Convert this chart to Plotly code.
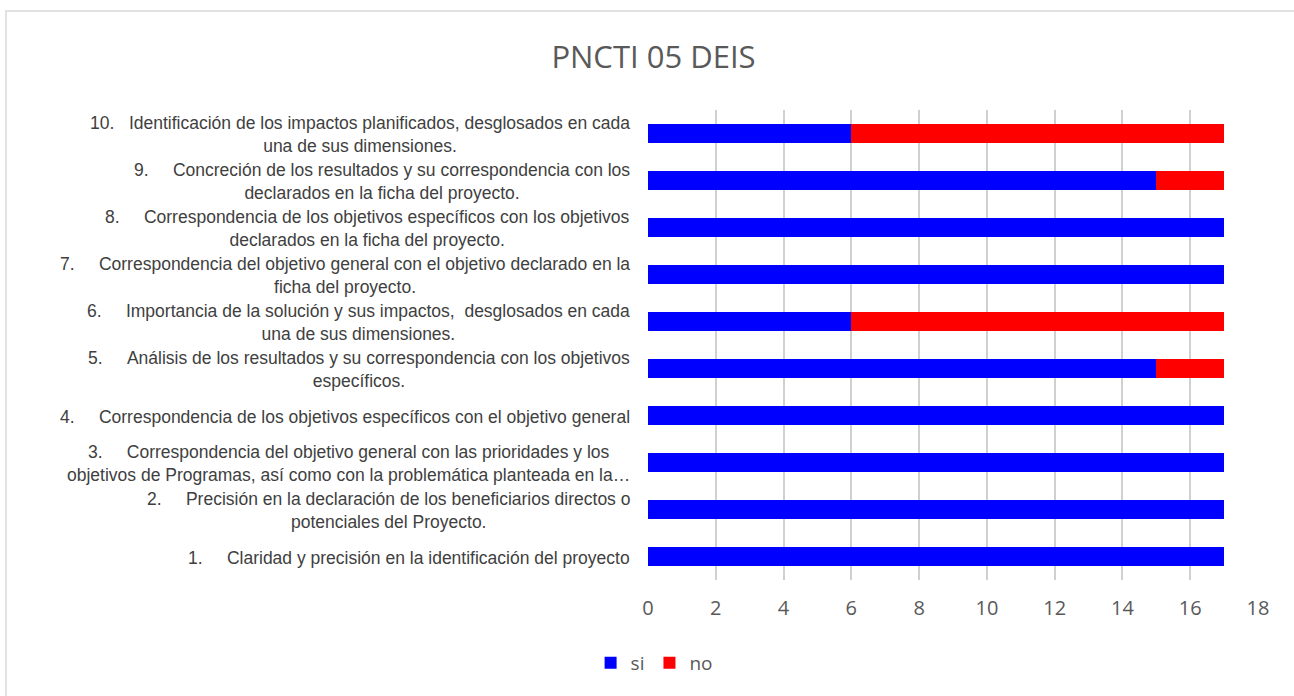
import plotly.graph_objects as go

NB = "\u00a0"

numbers = ["1.", "2.", "3.", "4.", "5.", "6.", "7.", "8.", "9.", "10."]
texts = [
    "Claridad y precisión en la identificación del proyecto",
    "Precisión en la declaración de los beneficiarios directos o<br>potenciales del Proyecto.",
    "Correspondencia del objetivo general con las prioridades y los<br>objetivos de Programas, así como con la problemática planteada en la…",
    "Correspondencia de los objetivos específicos con el objetivo general",
    "Análisis de los resultados y su correspondencia con los objetivos<br>específicos.",
    "Importancia de la solución y sus impactos,  desglosados en cada<br>una de sus dimensiones.",
    "Correspondencia del objetivo general con el objetivo declarado en la<br>ficha del proyecto.",
    "Correspondencia de los objetivos específicos con los objetivos<br>declarados en la ficha del proyecto.",
    "Concreción de los resultados y su correspondencia con los<br>declarados en la ficha del proyecto.",
    "Identificación de los impactos planificados, desglosados en cada<br>una de sus dimensiones.",
]
categories = [f"{n}{NB * (3 if len(n) > 2 else 5)}{t}" for n, t in zip(numbers, texts)]
si_values = [17, 17, 17, 17, 15, 6, 17, 17, 15, 6]
no_values = [0, 0, 0, 0, 2, 11, 0, 0, 2, 11]
x_ticks = [0, 2, 4, 6, 8, 10, 12, 14, 16, 18]

fig = go.Figure()
fig.add_trace(go.Bar(y=categories, x=si_values, orientation="h", name="si",
                     marker=dict(color="#0000FF", line=dict(width=0))))
fig.add_trace(go.Bar(y=categories, x=no_values, orientation="h", name="no",
                     marker=dict(color="#FF0000", line=dict(width=0))))

for c in categories:
    fig.add_annotation(x=0, xref="paper", y=c, yref="y", text=c, showarrow=False,
                       xanchor="right", align="center", xshift=-16, yshift=-1,
                       font=dict(family="Liberation Sans, Arial", size=17.5, color="#404040"))

fig.add_shape(type="rect", xref="paper", yref="paper",
              x0=-1.0525, x1=1.2, y0=-0.4, y1=1.2106,
              line=dict(color="#D9D9D9", width=1.5), fillcolor="rgba(0,0,0,0)", layer="above")

fig.update_layout(
    width=1294, height=696,
    barmode="stack", bargap=0.6,
    plot_bgcolor="white", paper_bgcolor="white",
    margin=dict(l=648, r=36, t=110, b=116),
    title=dict(text="PNCTI 05 DEIS", x=0.505, xanchor="center", y=0.918, yanchor="middle",
               font=dict(family="Open Sans, Liberation Sans", size=31, color="#595959")),
    xaxis=dict(range=[0, 18], tickvals=x_ticks, showgrid=True, gridcolor="#D0D0D0", gridwidth=1.5,
               zeroline=False, showline=False, ticks="", ticklabelstandoff=14,
               tickfont=dict(family="Open Sans, Liberation Sans", size=20, color="#595959")),
    yaxis=dict(showticklabels=False, showgrid=False, zeroline=False, categoryorder="array",
               categoryarray=categories),
    legend=dict(orientation="h", x=0.01, xanchor="center", y=-0.1766, yanchor="middle",
                font=dict(family="Open Sans, Liberation Sans", size=19, color="#595959"),
                traceorder="normal"),
    showlegend=True,
)

fig.write_html("out.html", config={"displayModeBar": False},
               post_script="document.body.style.margin='0';document.body.style.overflow='hidden';")
